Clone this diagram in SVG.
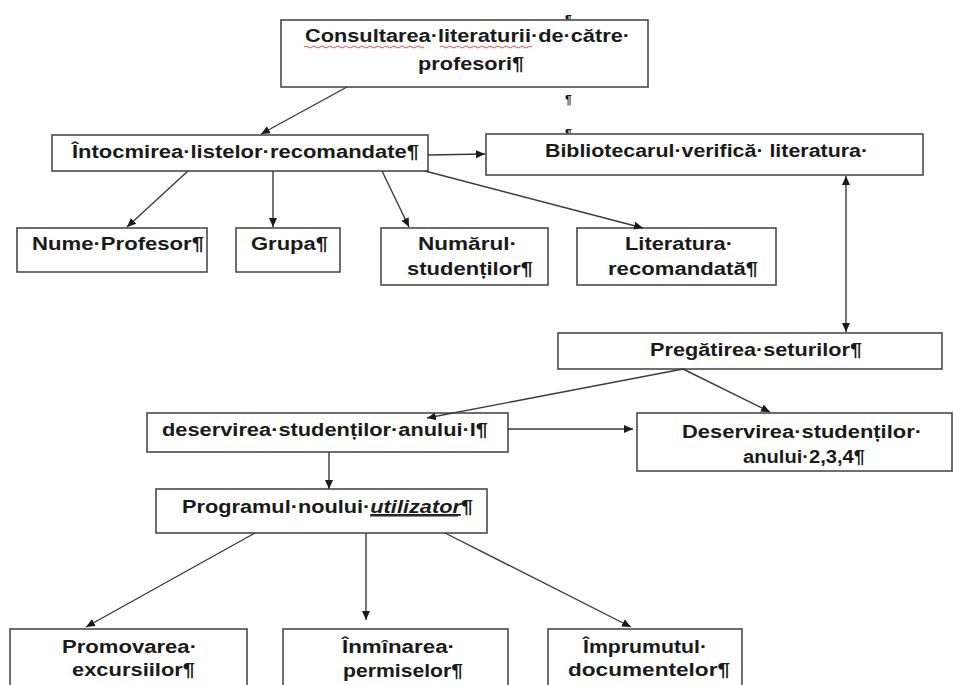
<svg xmlns="http://www.w3.org/2000/svg" width="954" height="685" viewBox="0 0 954 685">
<style>
.box{fill:#fff;stroke:#4a4a4a;stroke-width:1.6}
.t{font-family:"Liberation Sans",Arial,sans-serif;font-weight:bold;font-size:18px;fill:#1a1a1a}
.mark{font-family:"Liberation Sans",Arial,sans-serif;font-weight:bold;font-size:12px;fill:#1a1a1a}
.c{stroke:#3a3a3a;stroke-width:1.4;fill:none}
</style>
<defs>
<marker id="ah" markerUnits="userSpaceOnUse" markerWidth="10" markerHeight="10" refX="9" refY="4" orient="auto-start-reverse" viewBox="0 0 10 8">
<path d="M0,0 L9,4 L0,8 z" fill="#1a1a1a"/>
</marker>
<clipPath id="clipTop"><rect x="550" y="0" width="40" height="20"/></clipPath>
<clipPath id="clipBib"><rect x="550" y="120" width="40" height="14"/></clipPath>
</defs>
<rect width="954" height="685" fill="#fff"/>
<g id="stray-marks">
<text class="mark" x="565" y="24" clip-path="url(#clipTop)">¶</text>
<text class="mark" x="565" y="104">¶</text>
<text class="mark" x="565" y="138" clip-path="url(#clipBib)">¶</text>
</g>
<g id="n-consultarea">
<rect class="box" x="281" y="20" width="367" height="67"/>
<text class="t" x="305" y="42" textLength="325" lengthAdjust="spacingAndGlyphs">Consultarea·literaturii·de·către·</text>
<text class="t" x="418" y="70" textLength="106" lengthAdjust="spacingAndGlyphs">profesori¶</text>
<path d="M304,47 q2,-2 4,0 t4,0 t4,0 t4,0 t4,0 t4,0 t4,0 t4,0 t4,0 t4,0 t4,0 t4,0 t4,0 t4,0 t4,0 t4,0 t4,0 t4,0 t4,0 t4,0 t4,0 t4,0 t4,0 t4,0 t4,0 t4,0 t4,0 t4,0 t4,0 t4,0" fill="none" stroke="#e84a4a" stroke-width="1"/>
<path d="M440,47 q2,-2 4,0 t4,0 t4,0 t4,0 t4,0 t4,0 t4,0 t4,0 t4,0 t4,0 t4,0 t4,0 t4,0 t4,0 t4,0 t4,0 t4,0 t4,0 t4,0 t4,0 t4,0 t4,0 t4,0" fill="none" stroke="#e84a4a" stroke-width="1"/>
</g>
<g id="n-intocmirea">
<rect class="box" x="52" y="135" width="376" height="36"/>
<text class="t" x="72" y="158" textLength="347" lengthAdjust="spacingAndGlyphs">Întocmirea·listelor·recomandate¶</text>
</g>
<g id="n-bibliotecarul">
<rect class="box" x="486" y="134" width="437" height="41"/>
<text class="t" x="545" y="157" textLength="323" lengthAdjust="spacingAndGlyphs">Bibliotecarul·verifică· literatura·</text>
</g>
<g id="n-nume">
<rect class="box" x="17" y="228" width="190" height="44"/>
<text class="t" x="32" y="250" textLength="172" lengthAdjust="spacingAndGlyphs">Nume·Profesor¶</text>
</g>
<g id="n-grupa">
<rect class="box" x="236" y="228" width="104" height="44"/>
<text class="t" x="251" y="250" textLength="77" lengthAdjust="spacingAndGlyphs">Grupa¶</text>
</g>
<g id="n-numarul">
<rect class="box" x="381" y="228" width="167" height="57"/>
<text class="t" x="418" y="250" textLength="99" lengthAdjust="spacingAndGlyphs">Numărul·</text>
<text class="t" x="407" y="275" textLength="126" lengthAdjust="spacingAndGlyphs">studenților¶</text>
</g>
<g id="n-literatura">
<rect class="box" x="577" y="228" width="199" height="57"/>
<text class="t" x="625" y="250" textLength="108" lengthAdjust="spacingAndGlyphs">Literatura·</text>
<text class="t" x="608" y="275" textLength="150" lengthAdjust="spacingAndGlyphs">recomandată¶</text>
</g>
<g id="n-pregatirea">
<rect class="box" x="558" y="333" width="384" height="36"/>
<text class="t" x="650" y="356" textLength="212" lengthAdjust="spacingAndGlyphs">Pregătirea·seturilor¶</text>
</g>
<g id="n-deservirea-I">
<rect class="box" x="147" y="413" width="361" height="39"/>
<text class="t" x="162" y="436" textLength="326" lengthAdjust="spacingAndGlyphs">deservirea·studenților·anului·I¶</text>
</g>
<g id="n-deservirea-234">
<rect class="box" x="637" y="413" width="315" height="58"/>
<text class="t" x="682" y="438" textLength="240" lengthAdjust="spacingAndGlyphs">Deservirea·studenților·</text>
<text class="t" x="743" y="463" textLength="122" lengthAdjust="spacingAndGlyphs">anului·2,3,4¶</text>
</g>
<g id="n-programul">
<rect class="box" x="156" y="489" width="331" height="44"/>
<text class="t" x="182" y="513" textLength="291" lengthAdjust="spacingAndGlyphs">Programul·noului·<tspan font-style="italic" text-decoration="underline">utilizator</tspan>¶</text>
<line x1="370" y1="516" x2="458" y2="516" stroke="#1a1a1a" stroke-width="1.2"/>
</g>
<g id="n-promovarea">
<rect class="box" x="10" y="629" width="237" height="70"/>
<text class="t" x="62" y="653" textLength="135" lengthAdjust="spacingAndGlyphs">Promovarea·</text>
<text class="t" x="72" y="676" textLength="123" lengthAdjust="spacingAndGlyphs">excursiilor¶</text>
</g>
<g id="n-inminarea">
<rect class="box" x="283" y="629" width="225" height="70"/>
<text class="t" x="342" y="653" textLength="113" lengthAdjust="spacingAndGlyphs">Înmînarea·</text>
<text class="t" x="343" y="677" textLength="120" lengthAdjust="spacingAndGlyphs">permiselor¶</text>
</g>
<g id="n-imprumutul">
<rect class="box" x="548" y="629" width="194" height="70"/>
<text class="t" x="583" y="653" textLength="124" lengthAdjust="spacingAndGlyphs">Împrumutul·</text>
<text class="t" x="568" y="676" textLength="162" lengthAdjust="spacingAndGlyphs">documentelor¶</text>
</g>
<g id="connectors">
<line class="c" x1="347" y1="87" x2="261" y2="134" marker-end="url(#ah)"/>
<line class="c" x1="428" y1="155" x2="485" y2="154" marker-end="url(#ah)"/>
<line class="c" x1="188" y1="171" x2="127" y2="227" marker-end="url(#ah)"/>
<line class="c" x1="273" y1="171" x2="273" y2="227" marker-end="url(#ah)"/>
<line class="c" x1="382" y1="171" x2="409" y2="227" marker-end="url(#ah)"/>
<line class="c" x1="425" y1="171" x2="643" y2="228" marker-end="url(#ah)"/>
<line class="c" x1="846" y1="176" x2="846" y2="332" marker-start="url(#ah)" marker-end="url(#ah)"/>
<line class="c" x1="683" y1="369" x2="427" y2="418" marker-end="url(#ah)"/>
<line class="c" x1="683" y1="369" x2="770" y2="412" marker-end="url(#ah)"/>
<line class="c" x1="508" y1="429" x2="633" y2="429" marker-end="url(#ah)"/>
<line class="c" x1="329" y1="452" x2="329" y2="489" marker-end="url(#ah)"/>
<line class="c" x1="255" y1="533" x2="86" y2="627" marker-end="url(#ah)"/>
<line class="c" x1="366" y1="533" x2="366" y2="620" marker-end="url(#ah)"/>
<line class="c" x1="445" y1="533" x2="631" y2="627" marker-end="url(#ah)"/>
</g>
</svg>
